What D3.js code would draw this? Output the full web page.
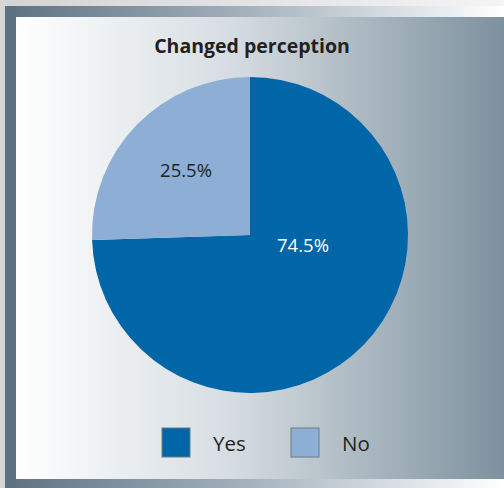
<!DOCTYPE html>
<html>
<head>
<meta charset="utf-8">
<script src="https://cdn.jsdelivr.net/npm/d3@7"></script>
<style>
  body { margin: 0; background: #fff; }
  svg { display: block; font-family: "Open Sans", "Noto Sans", sans-serif; }
</style>
</head>
<body>
<div id="chart"></div>
<script>
// data
var categories = ["Yes", "No"];
var values = [74.5, 25.5];
var colors = ["#0066a8", "#8eafd5"];
var labelColors = ["#ffffff", "#222222"];

var width = 504, height = 488;

var svg = d3.select("#chart").append("svg")
    .attr("width", width)
    .attr("height", height);

var defs = svg.append("defs");

// frame gradient: dark on the left, white on the right
var gFrame = defs.append("linearGradient").attr("id", "frameGrad");
gFrame.append("stop").attr("offset", "0%").attr("stop-color", "#5d7181");
gFrame.append("stop").attr("offset", "50%").attr("stop-color", "#a6b4bf");
gFrame.append("stop").attr("offset", "100%").attr("stop-color", "#ffffff");

// panel gradient: white on the left, blue-grey on the right
var gPanel = defs.append("linearGradient").attr("id", "panelGrad");
gPanel.append("stop").attr("offset", "0%").attr("stop-color", "#ffffff");
gPanel.append("stop").attr("offset", "45%").attr("stop-color", "#d5dce1");
gPanel.append("stop").attr("offset", "100%").attr("stop-color", "#7d919e");

// shadow strip
var gShadow = defs.append("linearGradient").attr("id", "shadowGrad");
gShadow.append("stop").attr("offset", "0%").attr("stop-color", "#d4d4d4");
gShadow.append("stop").attr("offset", "100%").attr("stop-color", "#f4f4f4");

svg.append("rect").attr("x", 0).attr("y", 0).attr("width", width).attr("height", 6)
    .attr("fill", "url(#shadowGrad)");
svg.append("rect").attr("x", 0).attr("y", 0).attr("width", 5).attr("height", height)
    .attr("fill", "#d6d6d6");

// frame
svg.append("rect").attr("x", 5).attr("y", 6).attr("width", width - 5).attr("height", 11)
    .attr("fill", "url(#frameGrad)");
svg.append("rect").attr("x", 5).attr("y", 479).attr("width", width - 5).attr("height", 9)
    .attr("fill", "url(#frameGrad)");
svg.append("rect").attr("x", 5).attr("y", 6).attr("width", 11).attr("height", height - 6)
    .attr("fill", "#5d7181");

// panel
svg.append("rect").attr("x", 16).attr("y", 17).attr("width", width - 16).attr("height", 462)
    .attr("fill", "url(#panelGrad)");

// title
svg.append("text")
    .attr("x", 252)
    .attr("y", 53)
    .attr("text-anchor", "middle")
    .style("font-size", "19.5px")
    .style("font-weight", "bold")
    .style("fill", "#231f20")
    .text("Changed perception");

// pie
var cx = 250, cy = 235, radius = 158;

var pie = d3.pie().sort(null).value(function(d) { return d; });
var arc = d3.arc().innerRadius(0).outerRadius(radius);

var arcs = pie(values);

var g = svg.append("g")
    .attr("transform", "translate(" + cx + "," + cy + ")");

g.selectAll("path")
    .data(arcs)
  .enter().append("path")
    .attr("d", arc)
    .attr("fill", function(d, i) { return colors[i]; });

// slice labels
var labelPos = [[53, 11], [-64, -64]];
g.selectAll(".lbl")
    .data(arcs)
  .enter().append("text")
    .attr("class", "lbl")
    .attr("x", function(d, i) { return labelPos[i][0]; })
    .attr("y", function(d, i) { return labelPos[i][1]; })
    .attr("dy", "0.35em")
    .attr("text-anchor", "middle")
    .style("font-size", "18.5px")
    .style("fill", function(d, i) { return labelColors[i]; })
    .text(function(d) { return d.data.toFixed(1) + "%"; });

// legend
var legendX = d3.scalePoint().domain(categories).range([162, 291]);

var legend = svg.selectAll(".legend")
    .data(categories)
  .enter().append("g")
    .attr("class", "legend")
    .attr("transform", function(d) { return "translate(" + legendX(d) + ",428)"; });

legend.append("rect")
    .attr("width", 28)
    .attr("height", 29)
    .attr("fill", function(d, i) { return colors[i]; })
    .attr("stroke", "#6d7a84")
    .attr("stroke-width", 1);

legend.append("text")
    .attr("x", 51)
    .attr("y", 23)
    .style("font-size", "20.5px")
    .style("fill", "#231f20")
    .text(function(d) { return d; });
</script>
</body>
</html>
